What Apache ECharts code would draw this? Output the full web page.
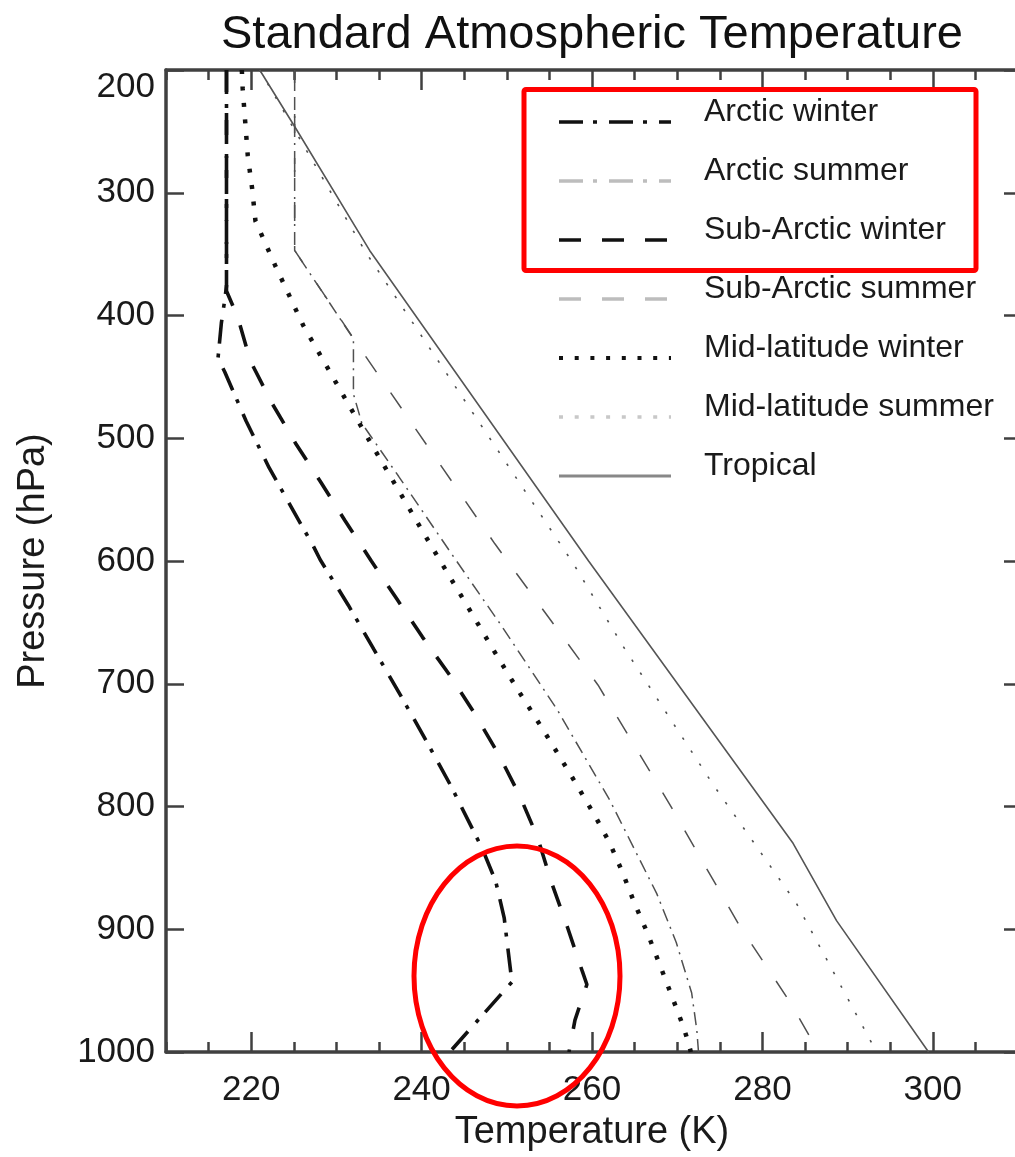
<!DOCTYPE html>
<html>
<head>
<meta charset="utf-8">
<title>Standard Atmospheric Temperature</title>
<script src="https://cdn.jsdelivr.net/npm/echarts@6/dist/echarts.min.js"></script>
<style>
  html, body { margin: 0; padding: 0; background: #fff; }
  #chart { width: 1015px; height: 1157px; }
</style>
</head>
<body>
<div id="chart"></div>
<script>
// profiles: pressure (hPa) and temperature (K)
const arcticWinterP = [200, 376, 387, 406, 435, 446, 486, 524, 561, 588, 599, 636, 672, 709, 746, 784, 834, 861, 891, 943, 1000];
const arcticWinterT = [217.1, 217.1, 216.9, 216.5, 216.1, 216.9, 219.4, 222.1, 225.1, 227.3, 228.1, 231.4, 234.4, 237.5, 240.5, 243.5, 247.1, 248.7, 249.7, 250.6, 243.3];

const arcticSummerP = [200, 347, 419, 464, 488, 531, 594, 651, 721, 795, 871, 911, 952, 982, 1000];
const arcticSummerT = [225.1, 225.1, 232.0, 232.0, 233.0, 237.3, 243.5, 249.2, 255.9, 262.1, 267.6, 269.9, 271.7, 272.3, 272.5];

const subArcticWinterP = [200, 380, 401, 437, 471, 504, 535, 567, 600, 631, 662, 693, 724, 757, 791, 825, 863, 898, 935, 945, 974, 1000];
const subArcticWinterT = [217.1, 217.1, 218.4, 219.9, 222.4, 225.2, 228.1, 231.0, 234.1, 237.1, 240.1, 243.3, 246.2, 249.0, 251.5, 253.6, 255.3, 257.1, 258.9, 259.4, 258.0, 257.3];

const subArcticSummerP = [200, 347, 431, 586, 701, 798, 897, 960, 1000];
const subArcticSummerT = [225.1, 225.1, 233.2, 248.6, 260.7, 269.1, 277.3, 283.3, 286.6];

const midLatWinterP = [200, 215, 270, 296, 323, 359, 408, 454, 500, 546, 592, 637, 671, 705, 739, 773, 807, 830, 854, 879, 903, 928, 955, 979, 992, 1000];
const midLatWinterT = [218.9, 219.0, 219.6, 220.1, 220.5, 222.8, 226.1, 229.9, 233.7, 237.6, 241.5, 245.4, 248.3, 251.3, 254.4, 257.4, 260.3, 262.1, 263.6, 265.0, 266.5, 267.9, 269.4, 270.7, 271.3, 271.6];

const midLatSummerP = [200, 348, 602, 670, 782, 879, 1000];
const midLatSummerT = [221.0, 233.4, 257.8, 263.7, 274.2, 284.0, 293.4];

const tropicalP = [200, 246, 347, 600, 830, 893, 1000];
const tropicalT = [221.0, 225.1, 233.9, 259.6, 283.6, 288.7, 299.5];

const tempMajorTicks = [220, 240, 260, 280, 300];

const FONT = 'Liberation Sans, Arial, Helvetica, sans-serif';
const AXIS_COLOR = '#404040';
const TEXT_COLOR = '#1a1a1a';

function pairs(T, P) {
    return T.map((t, i) => [t, P[i]]);
}

const chart = echarts.init(document.getElementById('chart'), null, { renderer: 'canvas' });

// dash patterns (thick lines in the plot / legend, thin ones for the summer profiles)
const dashDot = [24, 10, 4, 12];
const dashDotThin = [13, 6, 2, 6];
const dashed = [22, 21];
const dashedThin = [19, 25];
const dotted = [4, 12.5];
const dottedThin = [2.5, 13];

function lineSeries(name, T, P, color, width, type, z) {
    return {
        name: name,
        type: 'line',
        data: pairs(T, P),
        symbol: 'none',
        silent: true,
        emphasis: { disabled: true },
        lineStyle: { color: color, width: width, type: type, cap: 'butt' },
        z: z
    };
}

const series = [
    lineSeries('Arctic winter', arcticWinterT, arcticWinterP, '#111', 3.6, dashDot, 8),
    lineSeries('Arctic summer', arcticSummerT, arcticSummerP, '#505050', 1.5, dashDotThin, 6),
    lineSeries('Sub-Arctic winter', subArcticWinterT, subArcticWinterP, '#111', 3.6, dashed, 7),
    lineSeries('Sub-Arctic summer', subArcticSummerT, subArcticSummerP, '#505050', 1.5, dashedThin, 5),
    lineSeries('Mid-latitude winter', midLatWinterT, midLatWinterP, '#111', 4.5, dotted, 7),
    lineSeries('Mid-latitude summer', midLatSummerT, midLatSummerP, '#505050', 1.6, dottedThin, 5),
    lineSeries('Tropical', tropicalT, tropicalP, '#555', 1.6, 'solid', 5)
];

const minorAxis = (pos) => ({
    type: 'value', position: pos, min: 210, max: 310, interval: 5,
    axisLine: { show: true, onZero: false, lineStyle: { color: AXIS_COLOR, width: 3.5 } },
    axisTick: { show: true, inside: true, length: 10, lineStyle: { color: AXIS_COLOR, width: 2.5 } },
    axisLabel: { show: false },
    splitLine: { show: false }
});

const majorAxis = (pos, labels) => ({
    type: 'value', position: pos, min: 210, max: 310, interval: 5,
    axisLine: { show: false, onZero: false },
    axisTick: { show: true, inside: true, length: 20, customValues: tempMajorTicks, lineStyle: { color: AXIS_COLOR, width: 2.5 } },
    axisLabel: labels ? { show: true, customValues: tempMajorTicks, fontSize: 35, fontFamily: FONT, color: TEXT_COLOR, margin: 21 } : { show: false },
    splitLine: { show: false },
    name: labels ? 'Temperature (K)' : '',
    nameLocation: 'middle',
    nameGap: 62,
    nameTextStyle: { fontSize: 38, fontFamily: FONT, color: TEXT_COLOR }
});

const hiddenMark = { opacity: 0, color: 'rgba(0,0,0,0)', borderWidth: 0 };
const legendItem = (name, lineStyle) => ({ name: name, itemStyle: hiddenMark, lineStyle: lineStyle });

const option = {
    animation: false,
    backgroundColor: '#fff',
    title: {
        text: 'Standard Atmospheric Temperature',
        left: 221,
        top: 12,
        padding: 0,
        textStyle: { fontSize: 47, fontWeight: 'normal', fontFamily: FONT, color: '#111' }
    },
    grid: { left: 166, top: 70, width: 852, height: 982, containLabel: false, outerBoundsMode: 'none' },
    legend: {
        orient: 'vertical',
        left: 557,
        top: 96,
        padding: 0,
        itemWidth: 112,
        itemHeight: 14,
        itemGap: 7,
        selectedMode: false,
        itemStyle: hiddenMark,
        // second (empty) line pushes the name up so the sample sits at its baseline
        formatter: name => '{t|' + name + '}\n{s| }',
        textStyle: {
            padding: [0, 0, 0, 28],
            rich: {
                t: { fontSize: 32, fontFamily: FONT, color: TEXT_COLOR, lineHeight: 32 },
                s: { fontSize: 2, lineHeight: 20, height: 20 }
            }
        },
        data: [
            legendItem('Arctic winter', { color: '#111', width: 3.6, type: dashDot }),
            legendItem('Arctic summer', { color: '#bdbdbd', width: 3.6, type: dashDot }),
            legendItem('Sub-Arctic winter', { color: '#111', width: 3.6, type: dashed }),
            legendItem('Sub-Arctic summer', { color: '#bdbdbd', width: 3.6, type: dashed }),
            legendItem('Mid-latitude winter', { color: '#111', width: 4, type: [4, 11.7] }),
            legendItem('Mid-latitude summer', { color: '#c8c8c8', width: 3.6, type: [4, 11.7] }),
            legendItem('Tropical', { color: '#888', width: 3, type: 'solid' })
        ]
    },
    xAxis: [
        minorAxis('bottom'),
        majorAxis('bottom', true),
        minorAxis('top'),
        majorAxis('top', false)
    ],
    yAxis: [
        {
            type: 'value', position: 'left', inverse: true, min: 200, max: 1000, interval: 100,
            axisLine: { show: true, onZero: false, lineStyle: { color: AXIS_COLOR, width: 3.5 } },
            axisTick: { show: true, inside: true, length: 18, lineStyle: { color: AXIS_COLOR, width: 2.5 } },
            axisLabel: {
                fontSize: 35, fontFamily: FONT, color: TEXT_COLOR, margin: 11,
                verticalAlignMinLabel: 'top',
                formatter: v => String(v)
            },
            splitLine: { show: false },
            name: 'Pressure (hPa)',
            nameLocation: 'middle',
            nameGap: 113,
            nameTextStyle: { fontSize: 38, fontFamily: FONT, color: TEXT_COLOR }
        },
        {
            type: 'value', position: 'right', inverse: true, min: 200, max: 1000, interval: 100,
            axisLine: { show: true, onZero: false, lineStyle: { color: AXIS_COLOR, width: 3.5 } },
            axisTick: { show: true, inside: true, length: 14, lineStyle: { color: AXIS_COLOR, width: 2.5 } },
            axisLabel: { show: false },
            splitLine: { show: false }
        }
    ],
    series: series,
    // red highlight marks drawn over the figure
    graphic: [
        {
            type: 'rect', z: 100, silent: true,
            shape: { x: 524, y: 89.5, width: 452, height: 181, r: 2 },
            style: { fill: 'none', stroke: '#ff0000', lineWidth: 5 }
        },
        {
            type: 'ellipse', z: 100, silent: true,
            shape: { cx: 517, cy: 976, rx: 103, ry: 130 },
            style: { fill: 'none', stroke: '#ff0000', lineWidth: 5 }
        }
    ]
};

chart.setOption(option);
</script>
</body>
</html>
